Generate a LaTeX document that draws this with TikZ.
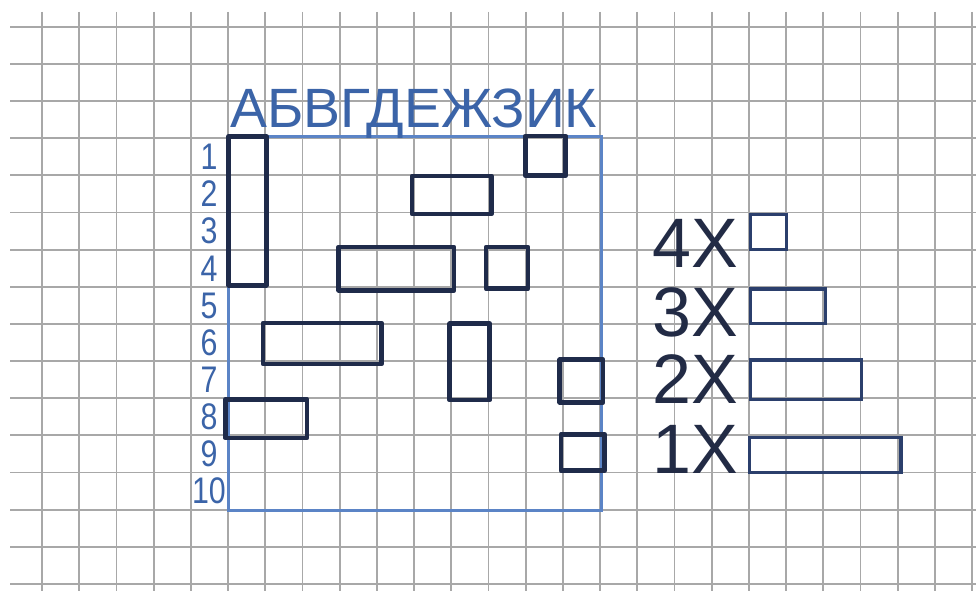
\documentclass[tikz,border=0pt]{standalone}
\usepackage{fontspec}
\setmainfont{Liberation Sans}
\usepackage{graphicx}
\definecolor{gridgray}{RGB}{168,168,168}
\definecolor{fieldblue}{HTML}{5B84C6}
\definecolor{headblue}{HTML}{3B64A8}
\definecolor{shipnavy}{HTML}{1F2B4A}
\definecolor{legnavy}{HTML}{2B3F6C}
\definecolor{legtext}{HTML}{222B45}
\tikzset{
  gridline/.style={draw=gridgray, line width=1.8pt},
  fieldframe/.style={draw=fieldblue, line width=3pt},
  ship/.style={draw=shipnavy, line width=4.6pt, line join=round},
  legendbox/.style={draw=legnavy, line width=3.4pt},
  legendtext/.style={anchor=base east, inner sep=0pt, text=legtext, font=\fontsize{70}{70}\selectfont},
  rownum/.style={anchor=center, inner sep=0pt, text=headblue, font=\fontsize{37}{37}\selectfont, xscale=0.82},
  colhead/.style={anchor=base west, inner sep=0pt, text=headblue}
}
\begin{document}
\begin{tikzpicture}[x=1pt,y=-1pt]
\useasboundingbox (0,0) rectangle (976,591);
\fill[white] (0,0) rectangle (976,591);
% grid
\foreach \k in {0,...,25} {
  \draw[gridline] ({42+37.2*\k},12) -- ({42+37.2*\k},591);
}
\foreach \k in {0,...,15} {
  \draw[gridline] (10,{26.7+37.15*\k}) -- (976,{26.7+37.15*\k});
}
% field
\draw[fieldframe] (228.5,136) rectangle (601,510);
% column header
\node[colhead] (cols) at (230,127) {\resizebox{367pt}{!}{\fontsize{52}{52}\selectfont АБВГДЕЖЗИК}};
% row numbers
\foreach \r in {1,...,10} {
  \node[rownum] (row\r) at (209,{138.3+37.15*(\r-0.5)}) {\r};
}
% ships
\draw[ship] (228.7,136.3) rectangle (266.3,285.3);
\draw[ship] (525.3,136) rectangle (565.7,175.7);
\draw[ship] (412,176) rectangle (491.3,214);
\draw[ship] (338.7,247) rectangle (454,290.3);
\draw[ship] (486,247) rectangle (528,288.7);
\draw[ship] (263,323) rectangle (381.3,364);
\draw[ship] (449.7,323.7) rectangle (489.7,400);
\draw[ship] (559.7,359.7) rectangle (603,402.3);
\draw[ship] (225.3,399.3) rectangle (307,438);
\draw[ship] (561,434.3) rectangle (604.7,470.7);
% legend
\node[legendtext] (l4) at (738,267) {4X};
\node[legendtext] (l3) at (738,336) {3X};
\node[legendtext] (l2) at (738,403) {2X};
\node[legendtext] (l1) at (738,473) {1X};
\draw[legendbox] (750.5,214.2) rectangle (786.2,249.5);
\draw[legendbox] (750.5,288.8) rectangle (825.2,323.2);
\draw[legendbox] (750.5,359.8) rectangle (861.2,399.2);
\draw[legendbox] (749.2,437.5) rectangle (900.8,472.5);
\end{tikzpicture}
\end{document}
